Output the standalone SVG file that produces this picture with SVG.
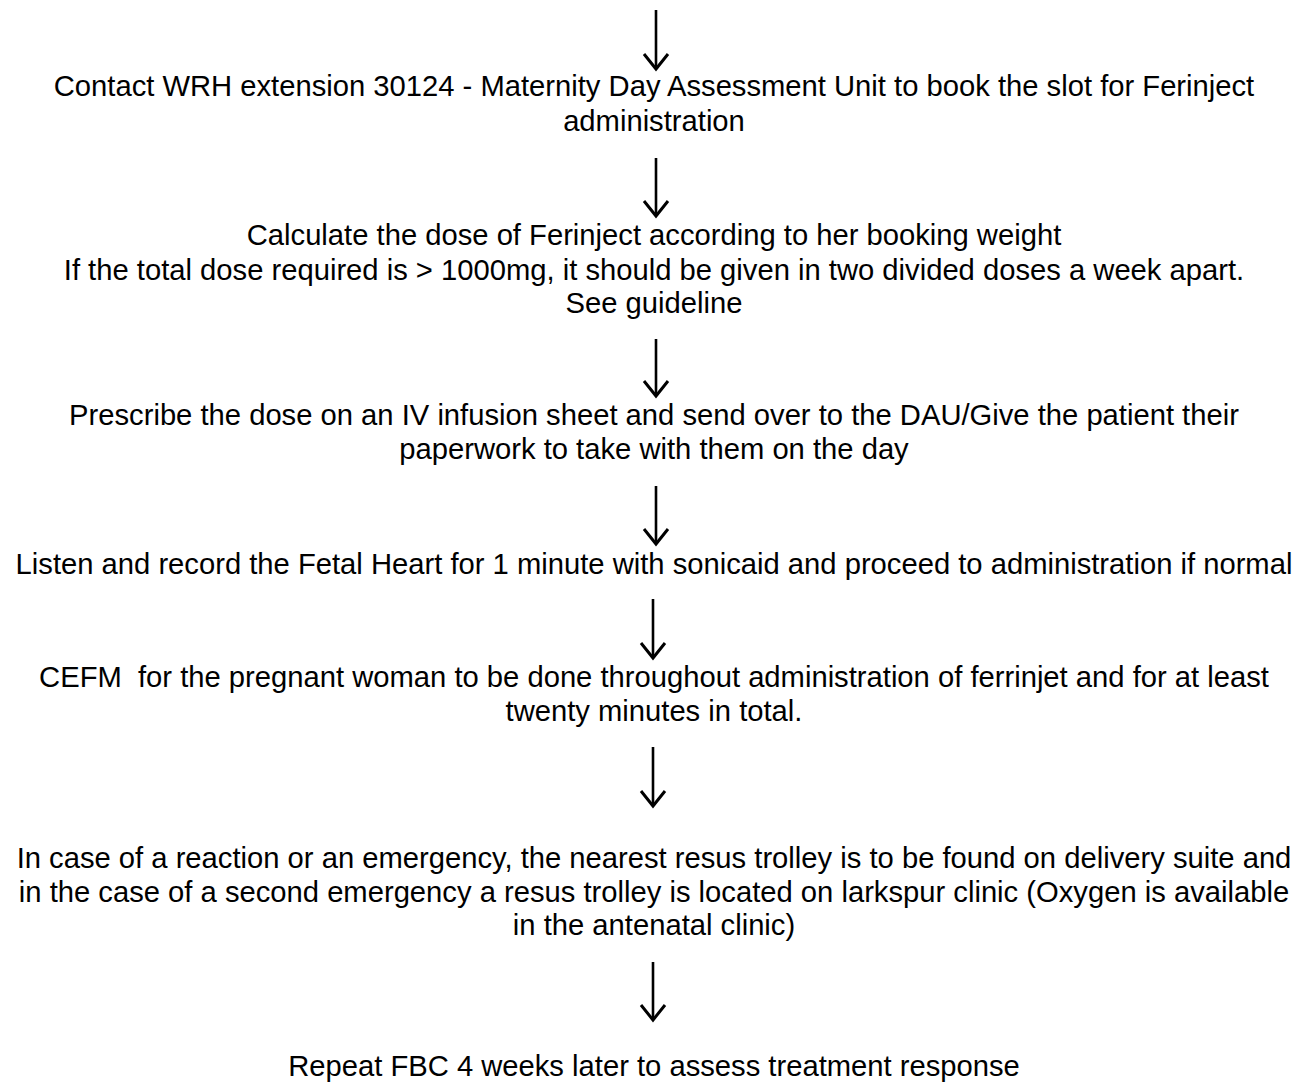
<svg xmlns="http://www.w3.org/2000/svg" width="1309" height="1084" viewBox="0 0 1309 1084">
<style>
  text { font-family: "Liberation Sans", Arial, sans-serif; font-size: 29.2px; fill: #000; text-anchor: middle; white-space: pre; }
  .conn line { stroke: #000; stroke-width: 2.6; marker-end: url(#arr); }
</style>
<defs>
  <marker id="arr" viewBox="-20 -16 24 32" markerUnits="userSpaceOnUse" markerWidth="24" markerHeight="32" refX="0" refY="0" orient="auto" overflow="visible">
    <path d="M-15,-12 L0,0 L-15,12" fill="none" stroke="#000" stroke-width="3" stroke-linejoin="miter"/>
  </marker>
</defs>
<rect width="1309" height="1084" fill="#fff"/>
<g id="connectors" class="conn">
  <line x1="656" y1="10" x2="656" y2="69"/>
  <line x1="656" y1="158" x2="656" y2="216"/>
  <line x1="656" y1="339" x2="656" y2="396"/>
  <line x1="656" y1="486" x2="656" y2="544"/>
  <line x1="653" y1="599" x2="653" y2="658"/>
  <line x1="653" y1="747" x2="653" y2="806"/>
  <line x1="653" y1="962" x2="653" y2="1020"/>
</g>
<g id="node1">
  <text x="654" y="96">Contact WRH extension 30124 - Maternity Day Assessment Unit to book the slot for Ferinject</text>
  <text x="654" y="131">administration</text>
</g>
<g id="node2">
  <text x="654" y="245">Calculate the dose of Ferinject according to her booking weight</text>
  <text x="654" y="280">If the total dose required is &gt; 1000mg, it should be given in two divided doses a week apart.</text>
  <text x="654" y="313">See guideline</text>
</g>
<g id="node3">
  <text x="654" y="425">Prescribe the dose on an IV infusion sheet and send over to the DAU/Give the patient their</text>
  <text x="654" y="459">paperwork to take with them on the day</text>
</g>
<g id="node4">
  <text x="654" y="574">Listen and record the Fetal Heart for 1 minute with sonicaid and proceed to administration if normal</text>
</g>
<g id="node5">
  <text x="654" y="687">CEFM  for the pregnant woman to be done throughout administration of ferrinjet and for at least</text>
  <text x="654" y="721">twenty minutes in total.</text>
</g>
<g id="node6">
  <text x="654" y="868">In case of a reaction or an emergency, the nearest resus trolley is to be found on delivery suite and</text>
  <text x="654" y="902">in the case of a second emergency a resus trolley is located on larkspur clinic (Oxygen is available</text>
  <text x="654" y="935">in the antenatal clinic)</text>
</g>
<g id="node7">
  <text x="654" y="1076">Repeat FBC 4 weeks later to assess treatment response</text>
</g>
</svg>
